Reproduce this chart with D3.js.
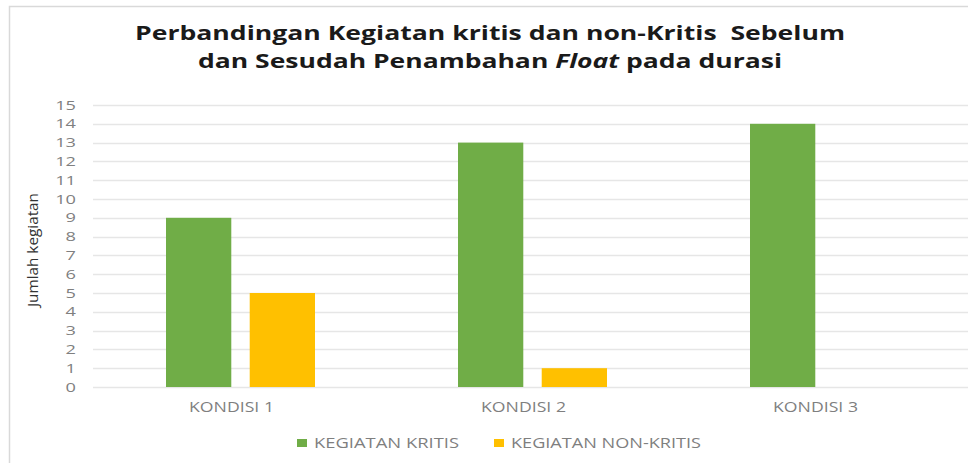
<!DOCTYPE html>
<html>
<head>
<meta charset="utf-8">
<script src="https://cdn.jsdelivr.net/npm/d3@7"></script>
<style>
  body { margin: 0; background: #fff; }
  svg text { font-family: "Open Sans", "Noto Sans", sans-serif; }
</style>
</head>
<body>
<svg id="chart" width="968" height="463"></svg>
<script>
// chart data
const categories = ["KONDISI 1", "KONDISI 2", "KONDISI 3"];
const seriesNames = ["KEGIATAN KRITIS", "KEGIATAN NON-KRITIS"];
const kritis = [9, 13, 14];
const nonKritis = [5, 1, 0];
const yTicks = [0, 1, 2, 3, 4, 5, 6, 7, 8, 9, 10, 11, 12, 13, 14, 15];

const colors = ["#70AD47", "#FFC000"];

const svg = d3.select("#chart");

// outer frame of the chart area
svg.append("rect")
  .attr("x", 9.5).attr("y", 6.5)
  .attr("width", 980).attr("height", 480)
  .attr("fill", "none")
  .attr("stroke", "#d9d9d9")
  .attr("stroke-width", 1.5);

// scales
const x0 = d3.scaleBand()
  .domain(categories)
  .range([94.5, 970.5])
  .padding(0);

const x1 = d3.scaleBand()
  .domain(seriesNames)
  .range([71.5, 220.5])
  .paddingInner(0.22);

const y = d3.scaleLinear()
  .domain([0, 15])
  .range([387, 105]);

// gridlines
svg.append("g")
  .selectAll("line")
  .data(yTicks)
  .join("line")
  .attr("x1", 93).attr("x2", 968)
  .attr("y1", d => Math.round(y(d)) + 0.5)
  .attr("y2", d => Math.round(y(d)) + 0.5)
  .attr("stroke", "#e6e6e6")
  .attr("stroke-width", 1.5);

// y axis labels (source picture is stretched sideways, so widen text)
const yAxis = d3.axisLeft(y).tickValues(yTicks).tickSize(0).tickPadding(0);
svg.append("g")
  .attr("transform", "translate(76,0)")
  .call(yAxis)
  .call(g => g.select(".domain").remove())
  .call(g => g.selectAll("text")
    .attr("fill", "#7f7f7f")
    .attr("transform", "scale(1.4,1)")
    .style("font-size", "13px"));

// bars
const rows = categories.map((c, i) => ({ cat: c, values: [kritis[i], nonKritis[i]] }));

svg.append("g")
  .selectAll("g")
  .data(rows)
  .join("g")
  .attr("transform", d => `translate(${x0(d.cat)},0)`)
  .selectAll("rect")
  .data(d => d.values.map((v, j) => ({ key: seriesNames[j], value: v, j: j })))
  .join("rect")
  .attr("x", d => x1(d.key))
  .attr("y", d => y(d.value))
  .attr("width", x1.bandwidth())
  .attr("height", d => y(0) - y(d.value))
  .attr("fill", d => colors[d.j]);

// x axis labels
const xAxis = d3.axisBottom(x0).tickSize(0).tickPadding(0);
svg.append("g")
  .attr("transform", "translate(0,412)")
  .call(xAxis)
  .call(g => g.select(".domain").remove())
  .call(g => g.selectAll("text")
    .attr("dy", 0)
    .attr("x", -9)
    .attr("fill", "#7f7f7f")
    .attr("textLength", 85)
    .attr("lengthAdjust", "spacingAndGlyphs")
    .style("font-size", "14px"));

// y axis title
svg.append("text")
  .attr("transform", "translate(38,250) rotate(-90)")
  .attr("text-anchor", "middle")
  .attr("fill", "#333")
  .attr("textLength", 114)
  .attr("lengthAdjust", "spacingAndGlyphs")
  .style("font-size", "15px")
  .style("font-family", "'Liberation Sans Narrow', 'Open Sans', sans-serif")
  .text("Jumlah kegiatan");

// title
const title = svg.append("g")
  .attr("fill", "#1a1a1a")
  .style("font-size", "20px")
  .style("font-weight", "bold");
title.append("text")
  .attr("x", 135).attr("y", 40)
  .attr("textLength", 710)
  .attr("lengthAdjust", "spacingAndGlyphs")
  .style("white-space", "pre")
  .text("Perbandingan Kegiatan kritis dan non-Kritis  Sebelum");
const line2 = title.append("text")
  .attr("x", 198).attr("y", 68)
  .attr("textLength", 584)
  .attr("lengthAdjust", "spacingAndGlyphs");
line2.append("tspan").text("dan Sesudah Penambahan ");
line2.append("tspan").style("font-style", "italic").text("Float");
line2.append("tspan").text(" pada durasi");

// legend
const legendX = [297, 494];
const legendW = [145, 190];
const legend = svg.append("g")
  .selectAll("g")
  .data(seriesNames)
  .join("g")
  .attr("transform", (d, i) => `translate(${legendX[i]},439)`);
legend.append("rect")
  .attr("width", 10).attr("height", 8)
  .attr("fill", (d, i) => colors[i]);
legend.append("text")
  .attr("x", 17).attr("y", 8.5)
  .attr("fill", "#7f7f7f")
  .attr("textLength", (d, i) => legendW[i])
  .attr("lengthAdjust", "spacingAndGlyphs")
  .style("font-size", "14px")
  .text(d => d);
</script>
</body>
</html>
